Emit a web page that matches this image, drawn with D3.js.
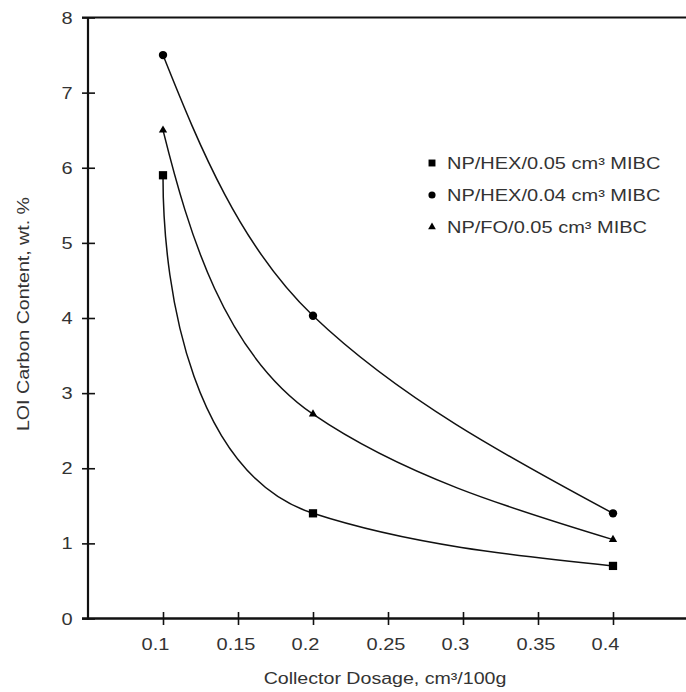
<!DOCTYPE html>
<html>
<head>
<meta charset="utf-8">
<script src="https://cdn.jsdelivr.net/npm/d3@7"></script>
<style>
  body { margin: 0; background: #fff; }
  svg { display: block; }
  text { font-family: "Liberation Sans", Arial, sans-serif; fill: #333; }
</style>
</head>
<body>
<div id="chart"></div>
<script>
// Data
var dosage = [0.1, 0.2, 0.4];
var hex005 = [5.9, 1.4, 0.7];     // squares
var hex004 = [7.5, 4.03, 1.4];    // circles
var fo005 = [6.5, 2.72, 1.05];    // triangles
var seriesNames = ["NP/HEX/0.05 cm\u00b3 MIBC", "NP/HEX/0.04 cm\u00b3 MIBC", "NP/FO/0.05 cm\u00b3 MIBC"];
var xTicks = [0.1, 0.15, 0.2, 0.25, 0.3, 0.35, 0.4];
var yTicks = [0, 1, 2, 3, 4, 5, 6, 7, 8];

var width = 686, height = 692;
// the lettering in the figure is a wide face, so stretch it along the line
var stretch = 1.25;

var svg = d3.select("#chart").append("svg")
    .attr("width", width)
    .attr("height", height);

var x = d3.scaleLinear().domain([0.05, 0.45]).range([88, 688]);
var y = d3.scaleLinear().domain([0, 8]).range([618.5, 17.5]);

// Smooth curve through the points: bezier segments whose tangents come from
// the neighbouring chords (harmonic mean inside, bent a little more at the ends)
function curveSmooth(context) {
    var pts;
    return {
        areaStart: function() {},
        areaEnd: function() {},
        lineStart: function() { pts = []; },
        point: function(px, py) { pts.push([+px, +py]); },
        lineEnd: function() {
            var n = pts.length;
            if (!n) return;
            context.moveTo(pts[0][0], pts[0][1]);
            if (n < 3) {
                if (n === 2) context.lineTo(pts[1][0], pts[1][1]);
                return;
            }
            var chord = [], ang = [];
            for (var i = 0; i < n - 1; i++) {
                chord.push(Math.atan2(pts[i + 1][1] - pts[i][1], pts[i + 1][0] - pts[i][0]));
            }
            for (var i = 1; i < n - 1; i++) {
                var s0 = Math.tan(chord[i - 1]), s1 = Math.tan(chord[i]);
                var t = (s0 * s1 > 0) ? 2 * s0 * s1 / (s0 + s1) : 0;
                ang[i] = Math.atan(t);
            }
            ang[0] = chord[0] + 0.5 * (chord[0] - ang[1]);
            ang[n - 1] = chord[n - 2] + 0.5 * (chord[n - 2] - ang[n - 2]);
            for (var i = 0; i < n - 1; i++) {
                var p0 = pts[i], p1 = pts[i + 1];
                var d = Math.hypot(p1[0] - p0[0], p1[1] - p0[1]) / 3;
                context.bezierCurveTo(
                    p0[0] + d * Math.cos(ang[i]), p0[1] + d * Math.sin(ang[i]),
                    p1[0] - d * Math.cos(ang[i + 1]), p1[1] - d * Math.sin(ang[i + 1]),
                    p1[0], p1[1]);
            }
        }
    };
}

var line = d3.line()
    .x(function(d) { return x(d[0]); })
    .y(function(d) { return y(d[1]); })
    .curve(curveSmooth);

// axes
var xAxis = svg.append("g")
    .attr("transform", "translate(0," + y(0) + ")")
    .call(d3.axisBottom(x).tickValues(xTicks).tickFormat(d3.format("")).tickSize(6));
xAxis.select(".domain").remove();
xAxis.selectAll(".tick line").attr("y1", -6.5).attr("y2", 6.5)
    .attr("stroke", "#111").attr("stroke-width", 1.6);
xAxis.selectAll(".tick text")
    .attr("font-size", 16).attr("fill", "#333")
    .attr("text-anchor", "start")
    .attr("x", -22 / stretch).attr("y", 31.5).attr("dy", null)
    .attr("transform", "scale(" + stretch + ",1)");

var yAxis = svg.append("g")
    .attr("transform", "translate(" + x(0.05) + ",0)")
    .call(d3.axisLeft(y).tickValues(yTicks).tickFormat(d3.format("d")).tickSize(6));
yAxis.select(".domain").remove();
yAxis.selectAll(".tick line").attr("x1", 7).attr("x2", -6)
    .attr("stroke", "#111").attr("stroke-width", 1.6);
yAxis.selectAll(".tick text")
    .attr("font-size", 16).attr("fill", "#333")
    .attr("x", -15.5 / stretch).attr("dy", "0.35em")
    .attr("transform", "scale(" + stretch + ",1)");

// frame lines: left axis, bottom axis, top edge
svg.append("line")
    .attr("x1", x(0.05)).attr("x2", x(0.05))
    .attr("y1", y(0) + 1).attr("y2", y(8))
    .attr("stroke", "#111").attr("stroke-width", 2.2);
svg.append("line")
    .attr("x1", x(0.05) - 6).attr("x2", width)
    .attr("y1", y(0)).attr("y2", y(0))
    .attr("stroke", "#111").attr("stroke-width", 2.6);
svg.append("line")
    .attr("x1", x(0.05) - 6).attr("x2", width)
    .attr("y1", y(8)).attr("y2", y(8))
    .attr("stroke", "#111").attr("stroke-width", 2.2);

// curves
var series = [hex005, hex004, fo005];
series.forEach(function(vals) {
    svg.append("path")
        .datum(dosage.map(function(d, i) { return [d, vals[i]]; }))
        .attr("fill", "none")
        .attr("stroke", "#111")
        .attr("stroke-width", 1.5)
        .attr("d", line);
});

// markers
var shapes = [d3.symbolSquare, d3.symbolCircle, d3.symbolTriangle];
var markSize = [68, 55, 30];
series.forEach(function(vals, k) {
    svg.selectAll(null)
        .data(dosage.map(function(d, i) { return [d, vals[i]]; }))
        .enter().append("path")
        .attr("d", d3.symbol().type(shapes[k]).size(markSize[k]))
        .attr("transform", function(d) { return "translate(" + x(d[0]) + "," + y(d[1]) + ")"; })
        .attr("fill", "#000");
});

// legend
var legend = svg.append("g").attr("transform", "translate(432,163)");
seriesNames.forEach(function(name, k) {
    var g = legend.append("g").attr("transform", "translate(0," + (k * 32) + ")");
    g.append("path")
        .attr("d", d3.symbol().type(shapes[k]).size([48, 40, 26][k]))
        .attr("fill", "#000");
    g.append("text")
        .attr("transform", "translate(15,5.8) scale(" + stretch + ",1)")
        .attr("font-size", 16)
        .text(name);
});

// axis titles
svg.append("text")
    .attr("transform", "translate(385,684) scale(" + stretch * 0.98 + ",1)")
    .attr("text-anchor", "middle")
    .attr("font-size", 16)
    .text("Collector Dosage, cm\u00b3/100g");

svg.append("text")
    .attr("transform", "translate(29,314) rotate(-90) scale(" + stretch * 0.98 + ",1)")
    .attr("text-anchor", "middle")
    .attr("font-size", 16)
    .text("LOI Carbon Content, wt. %");
</script>
</body>
</html>
